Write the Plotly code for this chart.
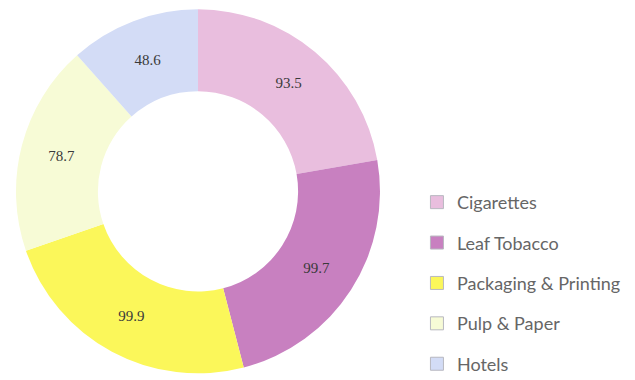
import plotly.graph_objects as go

categories = ["Cigarettes", "Leaf Tobacco", "Packaging & Printing", "Pulp & Paper", "Hotels"]
values = [93.5, 99.7, 99.9, 78.7, 48.6]
colors = ["#e9bede", "#c880c0", "#fbf75a", "#f7fbd6", "#d3dcf6"]

fig = go.Figure()
fig.add_trace(go.Pie(
    labels=categories, values=values, hole=0.55, sort=False, direction="clockwise",
    rotation=0, marker=dict(colors=colors, line=dict(width=0)),
    texttemplate="%{value}", textposition="inside", insidetextorientation="horizontal",
    textfont=dict(family="Liberation Serif", size=15, color="#3a3a3a"),
    showlegend=False, hoverinfo="label+value",
    domain=dict(x=[0.0126, 0.5858], y=[0.035, 1.0]),
))
for c, col in zip(categories, colors):
    fig.add_trace(go.Scatter(
        x=[None], y=[None], mode="markers", name=c, legendgroup=c,
        marker=dict(symbol="square", size=13, color=col, line=dict(color="#b8b8c0", width=1)),
    ))

fig.update_layout(
    width=635, height=380, margin=dict(l=0, r=0, t=0, b=0, autoexpand=False),
    paper_bgcolor="white", plot_bgcolor="white",
    xaxis=dict(visible=False), yaxis=dict(visible=False),
    legend=dict(x=0.644, y=0.537, xanchor="left", yanchor="top", tracegroupgap=14,
                font=dict(family="Lato", size=18, color="#666666"), itemwidth=30),
)
fig.write_html("out.html")
